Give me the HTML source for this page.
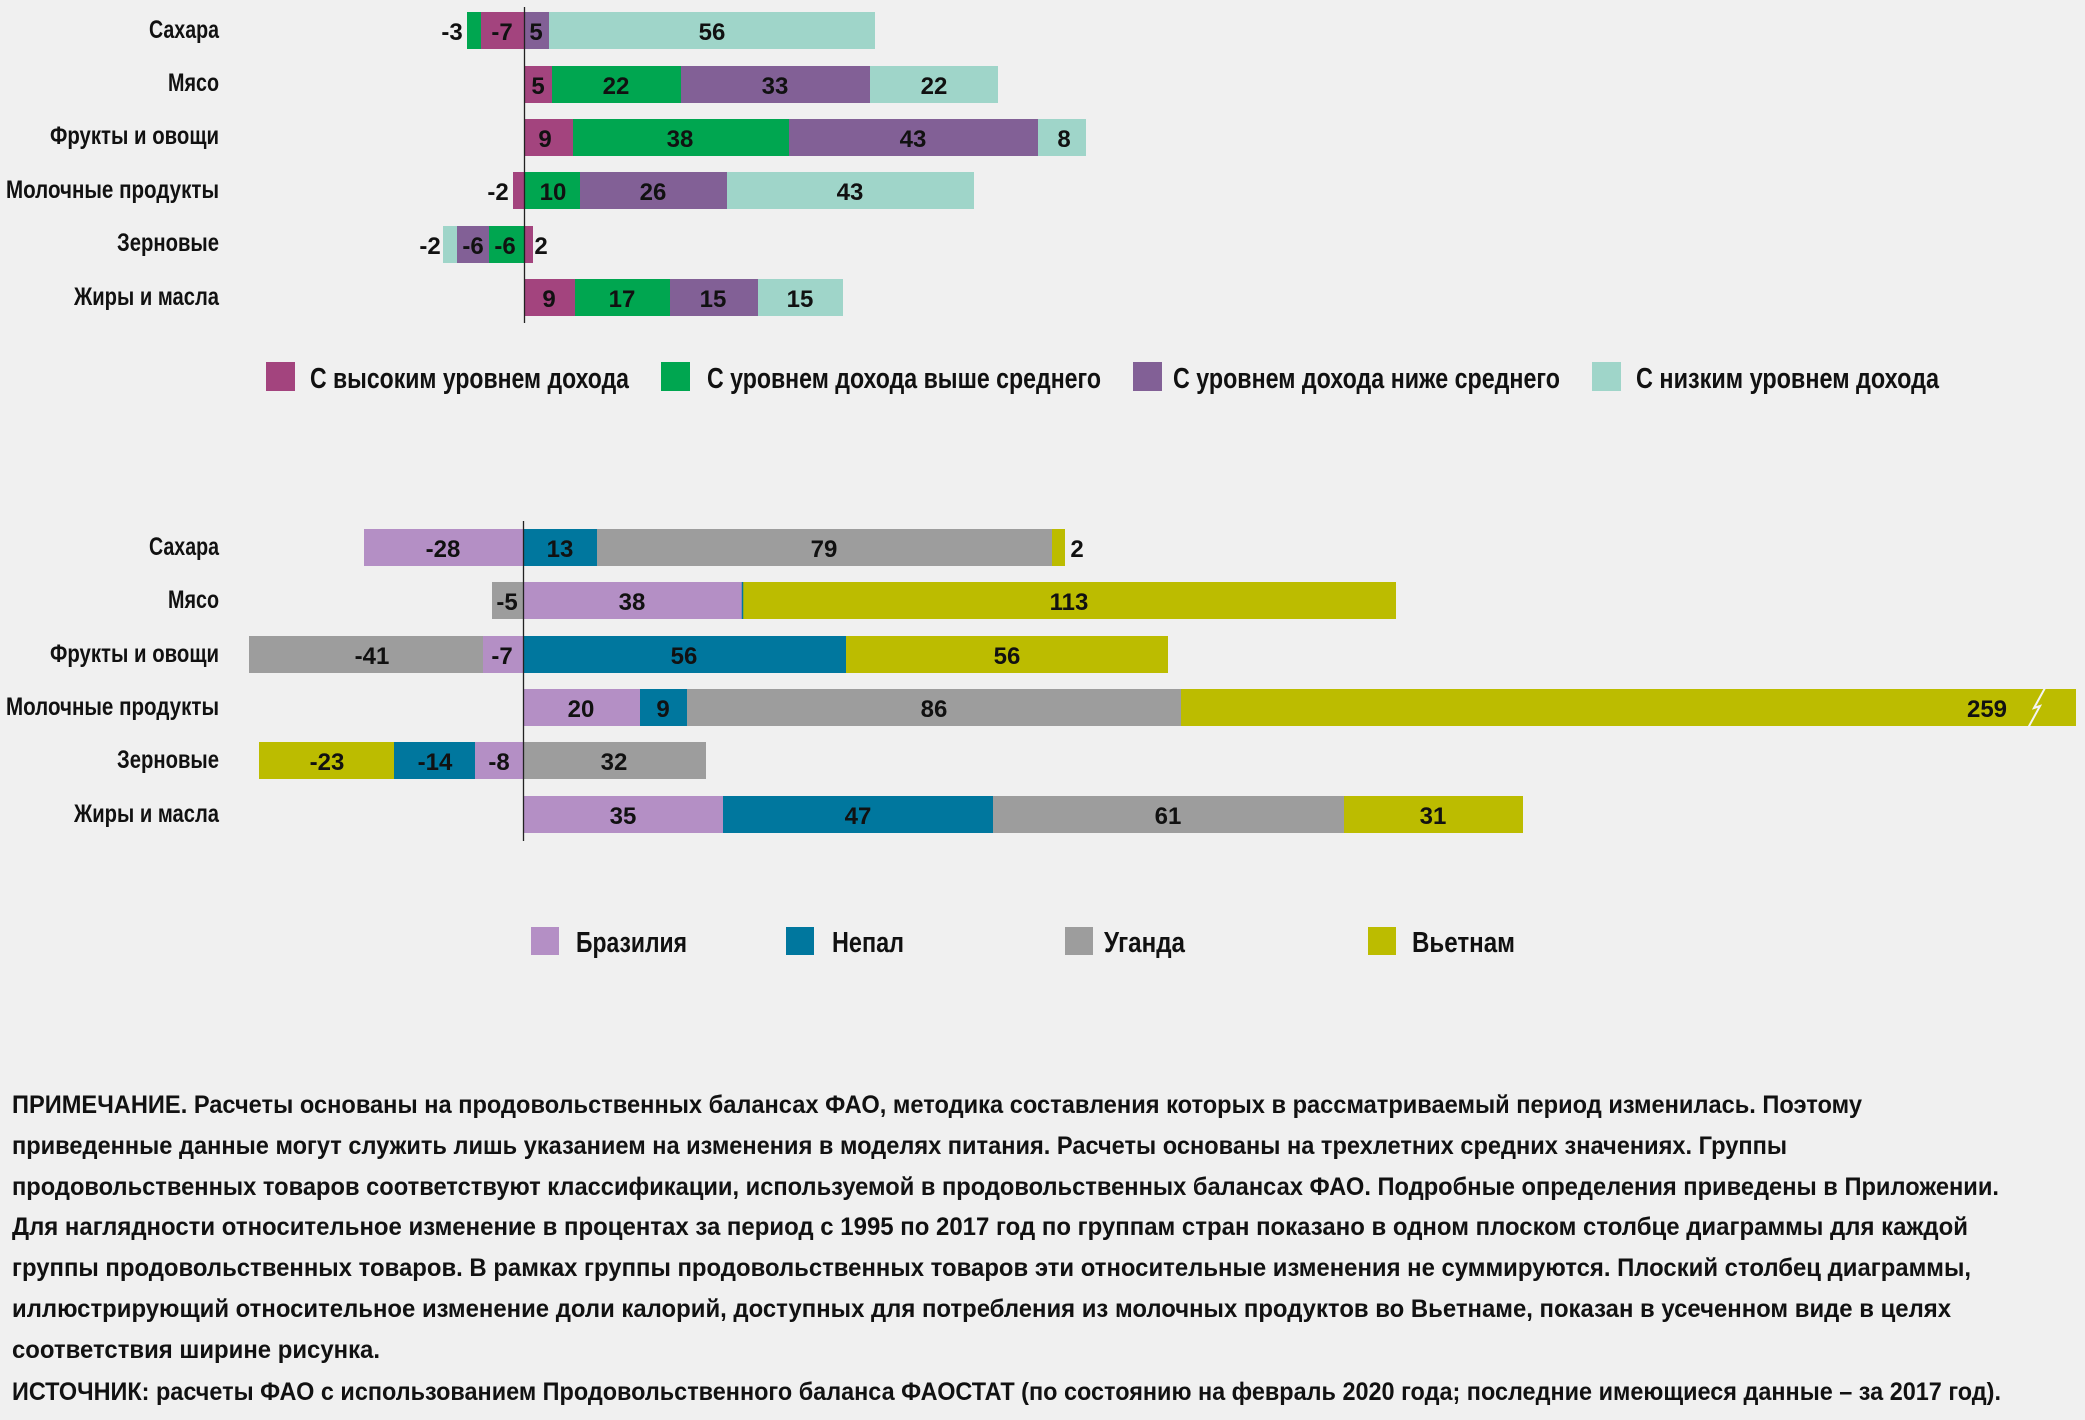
<!DOCTYPE html>
<html><head><meta charset="utf-8">
<style>
html,body{margin:0;padding:0;background:#f0f0f0;}
svg{display:block;}
text{font-family:"Liberation Sans Narrow","Liberation Sans",sans-serif;font-weight:bold;fill:#111;}
.v{font-size:24px;text-anchor:middle;}
.c{font-size:25px;text-anchor:end;}
.l{font-size:29px;}
.n{font-size:25px;}
</style></head>
<body>
<svg width="2085" height="1420" viewBox="0 0 2085 1420" xmlns="http://www.w3.org/2000/svg">
<rect width="2085" height="1420" fill="#f0f0f0"/>
<!-- chart 1 categories -->
<g>
<text class="c" x="219" y="38" textLength="70" lengthAdjust="spacingAndGlyphs">Сахара</text>
<text class="c" x="219" y="91" textLength="51" lengthAdjust="spacingAndGlyphs">Мясо</text>
<text class="c" x="219" y="144" textLength="169" lengthAdjust="spacingAndGlyphs">Фрукты и овощи</text>
<text class="c" x="219" y="198" textLength="213" lengthAdjust="spacingAndGlyphs">Молочные продукты</text>
<text class="c" x="219" y="251" textLength="102" lengthAdjust="spacingAndGlyphs">Зерновые</text>
<text class="c" x="219" y="305" textLength="145" lengthAdjust="spacingAndGlyphs">Жиры и масла</text>
</g>
<!-- chart 1 bars -->
<g>
<rect x="467" y="12" width="14" height="37" fill="#00a650"/>
<rect x="481" y="12" width="43" height="37" fill="#a3447e"/>
<rect x="524" y="12" width="25" height="37" fill="#826096"/>
<rect x="549" y="12" width="326" height="37" fill="#9fd5c9"/>
<text class="v" x="452" y="40">-3</text><text class="v" x="502" y="40">-7</text><text class="v" x="536" y="40">5</text><text class="v" x="712" y="40">56</text>

<rect x="524" y="66" width="28" height="37" fill="#a3447e"/>
<rect x="552" y="66" width="129" height="37" fill="#00a650"/>
<rect x="681" y="66" width="189" height="37" fill="#826096"/>
<rect x="870" y="66" width="128" height="37" fill="#9fd5c9"/>
<text class="v" x="538" y="94">5</text><text class="v" x="616" y="94">22</text><text class="v" x="775" y="94">33</text><text class="v" x="934" y="94">22</text>

<rect x="524" y="119" width="49" height="37" fill="#a3447e"/>
<rect x="573" y="119" width="216" height="37" fill="#00a650"/>
<rect x="789" y="119" width="249" height="37" fill="#826096"/>
<rect x="1038" y="119" width="48" height="37" fill="#9fd5c9"/>
<text class="v" x="545" y="147">9</text><text class="v" x="680" y="147">38</text><text class="v" x="913" y="147">43</text><text class="v" x="1064" y="147">8</text>

<rect x="513" y="172" width="11" height="37" fill="#a3447e"/>
<rect x="524" y="172" width="56" height="37" fill="#00a650"/>
<rect x="580" y="172" width="147" height="37" fill="#826096"/>
<rect x="727" y="172" width="247" height="37" fill="#9fd5c9"/>
<text class="v" x="498" y="200">-2</text><text class="v" x="553" y="200">10</text><text class="v" x="653" y="200">26</text><text class="v" x="850" y="200">43</text>

<rect x="443" y="226" width="14" height="37" fill="#9fd5c9"/>
<rect x="457" y="226" width="32" height="37" fill="#826096"/>
<rect x="489" y="226" width="35" height="37" fill="#00a650"/>
<rect x="524" y="226" width="9" height="37" fill="#a3447e"/>
<text class="v" x="430" y="254">-2</text><text class="v" x="473" y="254">-6</text><text class="v" x="505" y="254">-6</text><text class="v" x="541" y="254">2</text>

<rect x="524" y="279" width="51" height="37" fill="#a3447e"/>
<rect x="575" y="279" width="95" height="37" fill="#00a650"/>
<rect x="670" y="279" width="88" height="37" fill="#826096"/>
<rect x="758" y="279" width="85" height="37" fill="#9fd5c9"/>
<text class="v" x="549" y="307">9</text><text class="v" x="622" y="307">17</text><text class="v" x="713" y="307">15</text><text class="v" x="800" y="307">15</text>
<line x1="524.5" y1="7" x2="524.5" y2="323" stroke="#222" stroke-width="1.3"/>
</g>
<!-- legend 1 -->
<g>
<rect x="266" y="362" width="29" height="29" fill="#a3447e"/>
<text class="l" x="310" y="388" textLength="319" lengthAdjust="spacingAndGlyphs">С высоким уровнем дохода</text>
<rect x="661" y="362" width="29" height="29" fill="#00a650"/>
<text class="l" x="707" y="388" textLength="394" lengthAdjust="spacingAndGlyphs">С уровнем дохода выше среднего</text>
<rect x="1133" y="362" width="29" height="29" fill="#826096"/>
<text class="l" x="1173" y="388" textLength="387" lengthAdjust="spacingAndGlyphs">С уровнем дохода ниже среднего</text>
<rect x="1592" y="362" width="29" height="29" fill="#9fd5c9"/>
<text class="l" x="1636" y="388" textLength="303" lengthAdjust="spacingAndGlyphs">С низким уровнем дохода</text>
</g>
<!-- chart 2 categories -->
<g>
<text class="c" x="219" y="555" textLength="70" lengthAdjust="spacingAndGlyphs">Сахара</text>
<text class="c" x="219" y="608" textLength="51" lengthAdjust="spacingAndGlyphs">Мясо</text>
<text class="c" x="219" y="662" textLength="169" lengthAdjust="spacingAndGlyphs">Фрукты и овощи</text>
<text class="c" x="219" y="715" textLength="213" lengthAdjust="spacingAndGlyphs">Молочные продукты</text>
<text class="c" x="219" y="768" textLength="102" lengthAdjust="spacingAndGlyphs">Зерновые</text>
<text class="c" x="219" y="822" textLength="145" lengthAdjust="spacingAndGlyphs">Жиры и масла</text>
</g>
<g>
<rect x="364" y="529" width="159" height="37" fill="#b48fc5"/>
<rect x="523" y="529" width="74" height="37" fill="#00779e"/>
<rect x="597" y="529" width="455" height="37" fill="#9d9d9d"/>
<rect x="1052" y="529" width="13" height="37" fill="#bcbc00"/>
<text class="v" x="443" y="557">-28</text><text class="v" x="560" y="557">13</text><text class="v" x="824" y="557">79</text><text class="v" x="1077" y="557">2</text>

<rect x="492" y="582" width="31" height="37" fill="#9d9d9d"/>
<rect x="523" y="582" width="219" height="37" fill="#b48fc5"/>
<rect x="742" y="582" width="654" height="37" fill="#bcbc00"/>
<line x1="742.5" y1="582" x2="742.5" y2="619" stroke="#00779e" stroke-width="1.5"/>
<text class="v" x="507" y="610">-5</text><text class="v" x="632" y="610">38</text><text class="v" x="1069" y="610">113</text>

<rect x="249" y="636" width="234" height="37" fill="#9d9d9d"/>
<rect x="483" y="636" width="40" height="37" fill="#b48fc5"/>
<rect x="523" y="636" width="323" height="37" fill="#00779e"/>
<rect x="846" y="636" width="322" height="37" fill="#bcbc00"/>
<text class="v" x="372" y="664">-41</text><text class="v" x="502" y="664">-7</text><text class="v" x="684" y="664">56</text><text class="v" x="1007" y="664">56</text>

<rect x="523" y="689" width="117" height="37" fill="#b48fc5"/>
<rect x="640" y="689" width="47" height="37" fill="#00779e"/>
<rect x="687" y="689" width="494" height="37" fill="#9d9d9d"/>
<rect x="1181" y="689" width="895" height="37" fill="#bcbc00"/>
<text class="v" x="581" y="717">20</text><text class="v" x="663" y="717">9</text><text class="v" x="934" y="717">86</text><text class="v" x="1987" y="717">259</text>
<polyline points="2045,688 2034,708 2040,706 2028,728" fill="none" stroke="#f4f4f4" stroke-width="2"/>

<rect x="259" y="742" width="135" height="37" fill="#bcbc00"/>
<rect x="394" y="742" width="81" height="37" fill="#00779e"/>
<rect x="475" y="742" width="48" height="37" fill="#b48fc5"/>
<rect x="523" y="742" width="183" height="37" fill="#9d9d9d"/>
<text class="v" x="327" y="770">-23</text><text class="v" x="435" y="770">-14</text><text class="v" x="499" y="770">-8</text><text class="v" x="614" y="770">32</text>

<rect x="523" y="796" width="200" height="37" fill="#b48fc5"/>
<rect x="723" y="796" width="270" height="37" fill="#00779e"/>
<rect x="993" y="796" width="351" height="37" fill="#9d9d9d"/>
<rect x="1344" y="796" width="179" height="37" fill="#bcbc00"/>
<text class="v" x="623" y="824">35</text><text class="v" x="858" y="824">47</text><text class="v" x="1168" y="824">61</text><text class="v" x="1433" y="824">31</text>
<line x1="523.5" y1="521" x2="523.5" y2="841" stroke="#222" stroke-width="1.3"/>
</g>
<!-- legend 2 -->
<g>
<rect x="531" y="927" width="28" height="28" fill="#b48fc5"/>
<text class="l" x="576" y="952" textLength="111" lengthAdjust="spacingAndGlyphs">Бразилия</text>
<rect x="786" y="927" width="28" height="28" fill="#00779e"/>
<text class="l" x="832" y="952" textLength="72" lengthAdjust="spacingAndGlyphs">Непал</text>
<rect x="1065" y="927" width="28" height="28" fill="#9d9d9d"/>
<text class="l" x="1104" y="952" textLength="81" lengthAdjust="spacingAndGlyphs">Уганда</text>
<rect x="1368" y="927" width="28" height="28" fill="#bcbc00"/>
<text class="l" x="1412" y="952" textLength="103" lengthAdjust="spacingAndGlyphs">Вьетнам</text>
</g>
<!-- notes -->
<g>
<text class="n" x="12" y="1113" textLength="1850" lengthAdjust="spacingAndGlyphs">ПРИМЕЧАНИЕ. Расчеты основаны на продовольственных балансах ФАО, методика составления которых в рассматриваемый период изменилась. Поэтому</text>
<text class="n" x="12" y="1154" textLength="1775" lengthAdjust="spacingAndGlyphs">приведенные данные могут служить лишь указанием на изменения в моделях питания. Расчеты основаны на трехлетних средних значениях. Группы</text>
<text class="n" x="12" y="1195" textLength="1987" lengthAdjust="spacingAndGlyphs">продовольственных товаров соответствуют классификации, используемой в продовольственных балансах ФАО. Подробные определения приведены в Приложении.</text>
<text class="n" x="12" y="1235" textLength="1956" lengthAdjust="spacingAndGlyphs">Для наглядности относительное изменение в процентах за период с 1995 по 2017 год по группам стран показано в одном плоском столбце диаграммы для каждой</text>
<text class="n" x="12" y="1276" textLength="1959" lengthAdjust="spacingAndGlyphs">группы продовольственных товаров. В рамках группы продовольственных товаров эти относительные изменения не суммируются. Плоский столбец диаграммы,</text>
<text class="n" x="12" y="1317" textLength="1939" lengthAdjust="spacingAndGlyphs">иллюстрирующий относительное изменение доли калорий, доступных для потребления из молочных продуктов во Вьетнаме, показан в усеченном виде в целях</text>
<text class="n" x="12" y="1358" textLength="368" lengthAdjust="spacingAndGlyphs">соответствия ширине рисунка.</text>
<text class="n" x="12" y="1400" textLength="1989" lengthAdjust="spacingAndGlyphs">ИСТОЧНИК: расчеты ФАО с использованием Продовольственного баланса ФАОСТАТ (по состоянию на февраль 2020 года; последние имеющиеся данные – за 2017 год).</text>
</g>
</svg>
</body></html>
